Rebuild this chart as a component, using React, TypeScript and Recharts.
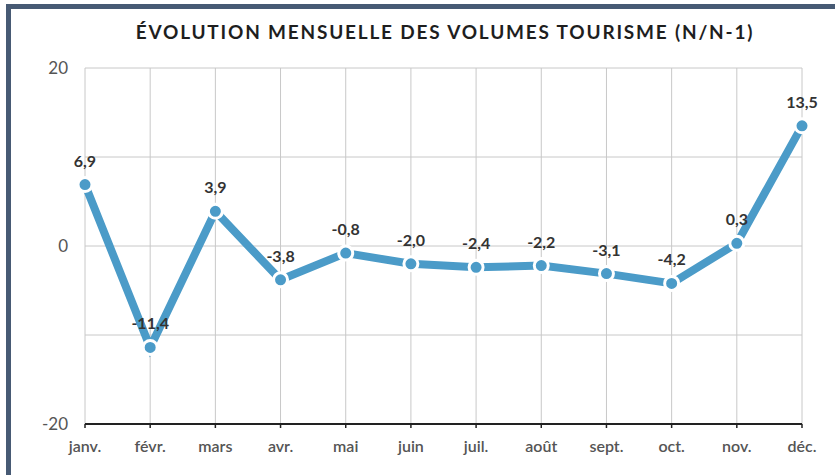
import React from "react";
import {
  LineChart,
  Line,
  XAxis,
  YAxis,
  CartesianGrid,
  LabelList,
} from "recharts";

const months = [
  "janv.",
  "févr.",
  "mars",
  "avr.",
  "mai",
  "juin",
  "juil.",
  "août",
  "sept.",
  "oct.",
  "nov.",
  "déc.",
];
const evolution = [6.9, -11.4, 3.9, -3.8, -0.8, -2.0, -2.4, -2.2, -3.1, -4.2, 0.3, 13.5];
const yTicks = [-20, -10, 0, 10, 20];
const yLabelled = [-20, 0, 20];
const title = "ÉVOLUTION MENSUELLE DES VOLUMES TOURISME (N/N-1)";

const FONT = "Lato, 'Open Sans', sans-serif";
const BLUE = "#4b9bc8";

const data = months.map((m, i) => ({ month: m, value: evolution[i] }));

const formatFr = (v: number) => v.toFixed(1).replace(".", ",");

const App: React.FC = () => {
  return (
    <div
      style={{
        position: "fixed",
        left: 0,
        top: 0,
        width: 835,
        height: 475,
        background: "#fff",
        fontFamily: FONT,
        overflow: "hidden",
      }}
    >
      {/* dark frame, only top and left visible in the crop */}
      <div
        style={{
          position: "absolute",
          left: 6,
          top: 4,
          width: 860,
          height: 500,
          borderLeft: "5px solid #475a74",
          borderTop: "5px solid #475a74",
          boxSizing: "border-box",
        }}
      />
      <div
        style={{
          position: "absolute",
          left: 0,
          top: 20,
          width: 890,
          textAlign: "center",
          fontSize: 19,
          fontWeight: 700,
          color: "#1e1e1e",
          letterSpacing: 1.8,
        }}
      >
        {title}
      </div>
      <div style={{ position: "absolute", left: 0, top: 0 }}>
        <LineChart
          width={835}
          height={475}
          data={data}
          margin={{ top: 68, right: 33, left: 25, bottom: 21 }}
        >
          <CartesianGrid stroke="#c8c8c8" strokeWidth={1} />
          <XAxis
            dataKey="month"
            axisLine={{ stroke: "#222", strokeWidth: 2 }}
            tickLine={{ stroke: "#222", strokeWidth: 1.5 }}
            tickSize={4}
            tickMargin={13}
            height={30}
            interval={0}
            tick={{ fontSize: 16, fill: "#555", fontFamily: FONT, fontWeight: 600 }}
          />
          <YAxis
            domain={[-20, 20]}
            ticks={yTicks}
            axisLine={false}
            tickLine={false}
            width={60}
            tickSize={6}
            tickMargin={11}
            tickFormatter={(v: number) => (yLabelled.includes(v) ? String(v) : "")}
            tick={{ fontSize: 17, fill: "#555", fontFamily: FONT }}
          />
          <Line
            type="linear"
            dataKey="value"
            stroke={BLUE}
            strokeWidth={8}
            dot={{ r: 7, fill: BLUE, stroke: "#fff", strokeWidth: 3 }}
            isAnimationActive={false}
          >
            <LabelList
              dataKey="value"
              position="top"
              offset={18}
              formatter={(v: number) => formatFr(v)}
              style={{
                fontSize: 16,
                fontWeight: 700,
                fill: "#333",
                fontFamily: FONT,
              }}
            />
          </Line>
        </LineChart>
      </div>
    </div>
  );
};

export default App;
